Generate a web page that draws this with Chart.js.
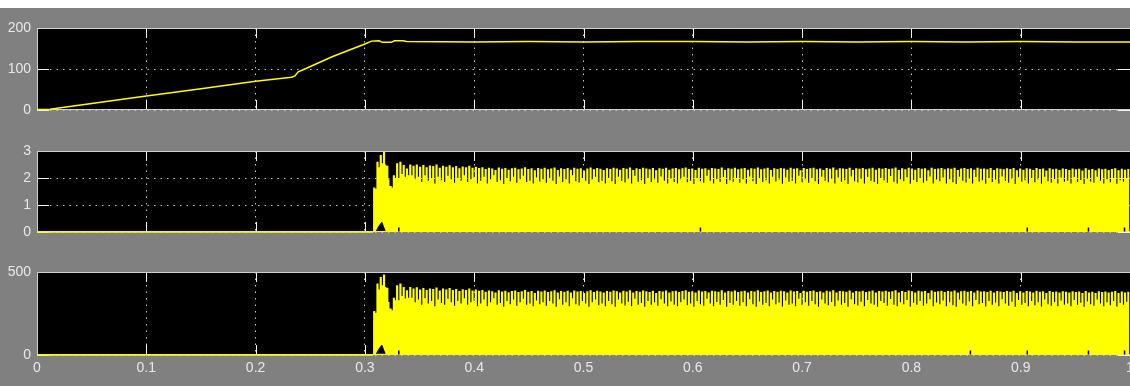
<!DOCTYPE html>
<html>
<head>
<meta charset="utf-8">
<script src="https://cdn.jsdelivr.net/npm/chart.js@4"></script>
<style>
  html, body { margin: 0; padding: 0; background: #fff; width: 1130px; height: 386px; overflow: hidden; }
  #scope { position: absolute; left: 0; top: 8px; width: 1130px; height: 378px; background: #808080; }
  canvas { position: absolute; left: 0; }
</style>
</head>
<body>
<div id="scope"></div>
<canvas id="speedChart" width="1160" height="122" style="top:8px"></canvas>
<canvas id="currentChart" width="1160" height="121" style="top:131px"></canvas>
<canvas id="powerChart" width="1160" height="134" style="top:252px"></canvas>
<script>
const YELLOW = '#ffff00';
const GRID = '#c4c4c4';
const LABEL = '#e8e8e8';

// time axis (s)
const xTickLabels = ['0', '0.1', '0.2', '0.3', '0.4', '0.5', '0.6', '0.7', '0.8', '0.9', '1'];

// panel 1 - speed
const speedTimes = [0, 0.012, 0.02, 0.05, 0.1, 0.15, 0.2, 0.233, 0.236, 0.239, 0.245, 0.27, 0.3, 0.306, 0.313,
    0.316, 0.324, 0.327, 0.335, 0.338, 0.4, 0.45, 0.5, 0.55, 0.6, 0.65, 0.7, 0.75, 0.8, 0.85, 0.9, 0.95, 1.0];
const speedValues = [1, 2, 5, 16, 34, 52, 70, 80, 83, 93, 100, 130, 161, 168, 169,
    165, 165, 169, 169, 167, 166, 167, 166, 167, 167, 166, 167, 166, 167, 166, 167, 166, 166];

// panels 2 and 3 - one switching period every PERIOD s from RIPPLE_START:
// the peak is held for PEAK_WIDTH, then the dip for the rest of the period
const SWITCH_ON = 0.3065;
const RIPPLE_START = 0.3075;
const PERIOD = 0.003;
const PEAK_WIDTH = 0.002;

const currentPeaks = [
    1.65, 2.6, 2.85, 2.97, 2.45, 1.7, 2.1, 2.55, 2.6, 2.48, 2.35, 2.5,
    2.45, 2.5, 2.42, 2.48, 2.4, 2.46, 2.44, 2.5, 2.38, 2.45, 2.42, 2.47, 2.4, 2.44, 2.36, 2.43, 2.4, 2.45, 2.38, 2.42,
    2.37, 2.4, 2.33, 2.38, 2.35, 2.3, 2.39, 2.34, 2.37, 2.31, 2.36, 2.38, 2.32, 2.35, 2.4, 2.33, 2.36, 2.29, 2.37, 2.34,
    2.38, 2.32, 2.35, 2.39, 2.3, 2.36, 2.33, 2.37, 2.31, 2.38, 2.34, 2.36, 2.28, 2.35, 2.39, 2.32, 2.37, 2.34, 2.3, 2.36,
    2.33, 2.38, 2.35, 2.31, 2.37, 2.34, 2.39, 2.3, 2.36, 2.33, 2.38, 2.35, 2.32, 2.37, 2.29, 2.36, 2.34, 2.38, 2.31, 2.35,
    2.37, 2.32, 2.36, 2.39, 2.33, 2.35, 2.3, 2.38, 2.34, 2.36, 2.31, 2.37, 2.35, 2.33, 2.39, 2.3, 2.36, 2.34, 2.38, 2.32,
    2.35, 2.37, 2.31, 2.36, 2.34, 2.39, 2.32, 2.35, 2.38, 2.3, 2.36, 2.33, 2.37, 2.35, 2.31, 2.38, 2.34, 2.36, 2.29, 2.37,
    2.33, 2.36, 2.38, 2.32, 2.35, 2.3, 2.37, 2.34, 2.39, 2.31, 2.36, 2.35, 2.33, 2.38, 2.3, 2.36, 2.34, 2.37, 2.32, 2.35,
    2.38, 2.31, 2.36, 2.34, 2.37, 2.33, 2.35, 2.39, 2.3, 2.36, 2.32, 2.38, 2.35, 2.31, 2.37, 2.34, 2.36, 2.29, 2.38, 2.33,
    2.35, 2.37, 2.32, 2.36, 2.34, 2.38, 2.3, 2.35, 2.37, 2.33, 2.36, 2.31, 2.38, 2.34, 2.35, 2.32, 2.37, 2.3, 2.36, 2.34,
    2.32, 2.36, 2.33, 2.37, 2.29, 2.35, 2.31, 2.36, 2.34, 2.3, 2.37, 2.33, 2.35, 2.28, 2.36, 2.32, 2.34, 2.3, 2.35, 2.33,
    2.3, 2.35, 2.32, 2.34, 2.28, 2.36, 2.31, 2.33, 2.29, 2.35, 2.32, 2.34, 2.3, 2.33, 2.36, 2.29, 2.34, 2.31, 2.33
];
const currentDips = [
    1.6, 2.4, 2.55, 2.5, 1.95, 1.65, 2.0, 2.0, 2.15, 2.05, 2.1, 2.1,
    1.95, 2.05, 1.85, 2.1, 1.9, 2.0, 1.8, 2.05, 1.92, 1.85, 2.08, 1.95, 1.82, 2.0, 1.9, 2.1, 1.85, 1.95, 2.02, 1.8,
    1.9, 2.05, 1.8, 1.95, 2.1, 1.85, 1.92, 1.78, 2.0, 1.88, 2.05, 1.82, 1.95, 2.08, 1.85, 1.9, 1.8, 2.02, 1.87, 1.95,
    1.82, 2.0, 1.9, 1.78, 2.06, 1.85, 1.95, 1.8, 2.1, 1.88, 1.83, 2.0, 1.9, 1.78, 1.95, 2.05, 1.84, 1.9, 1.8, 2.0,
    1.88, 1.78, 2.05, 1.9, 1.83, 1.97, 1.8, 2.08, 1.86, 1.92, 1.78, 2.0, 1.85, 1.95, 1.82, 2.06, 1.9, 1.8, 1.98, 1.85,
    1.8, 1.95, 2.05, 1.84, 1.9, 1.78, 2.0, 1.88, 1.82, 2.08, 1.9, 1.8, 1.96, 1.85, 2.04, 1.78, 1.92, 1.86, 2.0, 1.82,
    1.95, 1.8, 2.06, 1.88, 1.78, 1.98, 1.85, 1.92, 1.8, 2.05, 1.87, 1.94, 1.79, 2.02, 1.86, 1.9, 1.8, 2.08, 1.84, 1.95,
    1.82, 2.0, 1.88, 1.78, 2.05, 1.9, 1.84, 1.96, 1.8, 2.02, 1.86, 1.92, 1.78, 2.06, 1.88, 1.83, 1.97, 1.8, 2.04, 1.9,
    1.85, 1.78, 2.0, 1.92, 1.82, 2.07, 1.86, 1.8, 1.95, 1.88, 2.03, 1.79, 1.93, 1.85, 2.0, 1.82, 1.9, 2.06, 1.8, 1.94,
    1.88, 2.02, 1.8, 1.95, 1.84, 1.78, 2.05, 1.9, 1.83, 1.98, 1.8, 2.04, 1.87, 1.92, 1.79, 2.0, 1.85, 1.94, 1.8, 2.06,
    1.9, 1.82, 1.97, 1.78, 2.03, 1.86, 1.92, 1.8, 2.0, 1.84, 1.95, 1.79, 2.05, 1.88, 1.82, 1.96, 1.8, 2.02, 1.86, 1.9,
    1.8, 2.04, 1.85, 1.93, 1.78, 1.98, 1.87, 1.82, 2.05, 1.9, 1.8, 1.95, 1.84, 2.0, 1.79, 1.92, 1.86, 1.97, 1.82
];

const powerPeaks = [
    265, 430, 470, 485, 405, 280, 345, 420, 430, 410, 390, 410,
    400, 408, 395, 404, 392, 401, 398, 407, 389, 400, 395, 403, 392, 398, 386, 396, 392, 400, 388, 395,
    387, 392, 381, 388, 384, 376, 390, 382, 387, 378, 385, 388, 379, 384, 391, 381, 385, 374, 387, 382,
    388, 379, 384, 390, 376, 385, 381, 387, 377, 388, 382, 385, 373, 384, 390, 379, 387, 382, 376, 385,
    381, 388, 384, 377, 387, 382, 390, 376, 385, 381, 388, 384, 379, 387, 374, 385, 382, 388, 377, 384,
    387, 379, 385, 390, 381, 384, 376, 388, 382, 385, 377, 387, 384, 381, 390, 376, 385, 382, 388, 379,
    384, 387, 377, 385, 382, 390, 379, 384, 388, 376, 385, 381, 387, 384, 377, 388, 382, 385, 374, 387,
    381, 385, 388, 379, 384, 376, 387, 382, 390, 377, 385, 384, 381, 388, 376, 385, 382, 387, 379, 384,
    388, 377, 385, 382, 387, 381, 384, 390, 376, 385, 379, 388, 384, 377, 387, 382, 385, 374, 388, 381,
    384, 387, 379, 385, 382, 388, 376, 384, 387, 381, 385, 377, 388, 382, 384, 379, 387, 376, 385, 382,
    379, 385, 381, 387, 374, 384, 377, 385, 382, 376, 387, 381, 384, 373, 385, 379, 382, 376, 384, 381,
    376, 384, 379, 382, 373, 385, 377, 381, 374, 384, 379, 382, 376, 381, 385, 374, 382, 377, 381
];
const powerDips = [
    255, 395, 420, 410, 320, 270, 330, 330, 355, 340, 345, 345,
    318, 334, 302, 342, 310, 326, 293, 334, 313, 302, 339, 318, 297, 326, 310, 342, 302, 318, 329, 293,
    310, 334, 293, 318, 342, 302, 313, 290, 326, 306, 334, 297, 318, 339, 302, 310, 293, 329, 305, 318,
    297, 326, 310, 290, 336, 302, 318, 293, 342, 306, 298, 326, 310, 290, 318, 334, 300, 310, 293, 326,
    306, 290, 334, 310, 298, 321, 293, 339, 303, 313, 290, 326, 302, 318, 297, 336, 310, 293, 323, 302,
    293, 318, 334, 300, 310, 290, 326, 306, 297, 339, 310, 293, 320, 302, 332, 290, 313, 303, 326, 297,
    318, 293, 336, 306, 290, 323, 302, 313, 293, 334, 305, 316, 292, 329, 303, 310, 293, 339, 300, 318,
    297, 326, 306, 290, 334, 310, 300, 320, 293, 329, 303, 313, 290, 336, 306, 298, 321, 293, 332, 310,
    302, 290, 326, 313, 297, 337, 303, 293, 318, 306, 331, 292, 315, 302, 326, 297, 310, 336, 293, 316,
    306, 329, 293, 318, 300, 290, 334, 310, 298, 323, 293, 332, 305, 313, 292, 326, 302, 316, 293, 336,
    310, 297, 321, 290, 331, 303, 313, 293, 326, 300, 318, 292, 334, 306, 297, 320, 293, 329, 303, 310,
    293, 332, 302, 315, 290, 323, 305, 297, 334, 310, 293, 318, 300, 326, 292, 313, 303, 321, 297
];

// black gap just after switch-on (signal not reaching zero)
const gapTimes = [0.3105, 0.3125, 0.3155, 0.317, 0.3185];
const currentGap = [0.04, 0.2, 0.36, 0.2, 0.04];
const powerGap = [7, 33, 60, 33, 7];

// small dropouts at the bottom
const currentDropTimes = [0.331, 0.607, 0.906, 0.962, 0.995];
const powerDropTimes = [0.331, 0.854, 0.906, 0.962, 0.995];

function toPoints(xs, ys) {
    return xs.map((x, i) => ({ x, y: ys[i] }));
}

function rippleSeries(peaks, dips) {
    const pts = [{ x: 0, y: 0 }, { x: SWITCH_ON, y: 0 }];
    peaks.forEach((p, i) => {
        const t = RIPPLE_START + i * PERIOD;
        pts.push({ x: t, y: p });
        pts.push({ x: t + PEAK_WIDTH, y: dips[i] });
    });
    return pts;
}

const scopeFrame = {
    id: 'scopeFrame',
    beforeDraw(chart) {
        const { ctx, chartArea: a } = chart;
        ctx.save();
        ctx.fillStyle = '#000';
        ctx.fillRect(a.left, a.top, a.width, a.height);
        ctx.restore();
    },
    beforeDatasetsDraw(chart) {
        const { ctx, chartArea: a, scales } = chart;
        ctx.save();
        ctx.strokeStyle = '#f2f2f2';
        ctx.lineWidth = 1;
        ctx.beginPath();
        scales.x.ticks.forEach(t => {
            const x = Math.round(scales.x.getPixelForValue(t.value)) + 0.5;
            ctx.moveTo(x, a.top); ctx.lineTo(x, a.top + 10);
            ctx.moveTo(x, a.bottom); ctx.lineTo(x, a.bottom - 10);
        });
        scales.y.ticks.forEach(t => {
            const y = Math.round(scales.y.getPixelForValue(t.value)) + 0.5;
            ctx.moveTo(a.left, y); ctx.lineTo(a.left + 12, y);
            ctx.moveTo(a.right, y); ctx.lineTo(a.right - 12, y);
        });
        ctx.stroke();
        ctx.strokeStyle = '#cfcfcf';
        ctx.strokeRect(a.left + 0.5, a.top + 0.5, a.width, a.height - 1);
        ctx.restore();
    }
};

function panelOptions(yMax, yStep, showX) {
    return {
        animation: false,
        responsive: false,
        layout: { padding: { top: 20, right: 30, left: 0, bottom: 0 } },
        plugins: { legend: { display: false }, tooltip: { enabled: false } },
        scales: {
            x: {
                type: 'linear',
                min: 0,
                max: 1,
                afterFit: s => { s.height = showX ? 31 : 20; },
                ticks: {
                    display: showX,
                    stepSize: 0.1,
                    padding: 5,
                    color: LABEL,
                    font: { family: 'Liberation Sans', size: 14 },
                    callback: (v, i) => xTickLabels[i]
                },
                grid: { color: GRID, lineWidth: 1, drawTicks: false },
                border: { display: false, dash: [1.5, 5] }
            },
            y: {
                min: 0,
                max: yMax,
                afterFit: s => { s.width = 37; },
                ticks: {
                    stepSize: yStep,
                    padding: 6,
                    color: LABEL,
                    font: { family: 'Liberation Sans', size: 14 }
                },
                grid: { color: GRID, lineWidth: 1, drawTicks: false },
                border: { display: false, dash: [1.5, 5] }
            }
        }
    };
}

function ripplePanel(id, peaks, dips, gap, dropTimes, dropLevel, yMax, yStep, showX) {
    new Chart(document.getElementById(id), {
        type: 'line',
        data: {
            datasets: [
                {
                    data: rippleSeries(peaks, dips),
                    stepped: true,
                    borderColor: YELLOW,
                    borderWidth: 0,
                    backgroundColor: YELLOW,
                    fill: 'origin',
                    pointRadius: 0,
                    clip: 2,
                    order: 4
                },
                {
                    data: [{ x: 0, y: 0 }, { x: RIPPLE_START, y: 0 }],
                    borderColor: YELLOW,
                    borderWidth: 1.5,
                    pointRadius: 0,
                    clip: 2,
                    order: 3
                },
                {
                    data: toPoints(gapTimes, gap),
                    borderColor: '#000',
                    borderWidth: 1,
                    backgroundColor: '#000',
                    fill: { value: gap[0] },
                    pointRadius: 0,
                    order: 2
                },
                {
                    data: dropTimes.map(t => ({ x: t, y: dropLevel })),
                    showLine: false,
                    pointStyle: 'line',
                    rotation: 90,
                    pointRadius: 2,
                    borderColor: '#000',
                    borderWidth: 1.5,
                    order: 1
                }
            ]
        },
        options: panelOptions(yMax, yStep, showX),
        plugins: [scopeFrame]
    });
}

new Chart(document.getElementById('speedChart'), {
    type: 'line',
    data: {
        datasets: [{
            data: toPoints(speedTimes, speedValues),
            borderColor: YELLOW,
            borderWidth: 1.5,
            pointRadius: 0,
            tension: 0,
            fill: false,
            clip: 3
        }]
    },
    options: panelOptions(200, 100, false),
    plugins: [scopeFrame]
});

ripplePanel('currentChart', currentPeaks, currentDips, currentGap, currentDropTimes, 0.09, 3, 1, false);
ripplePanel('powerChart', powerPeaks, powerDips, powerGap, powerDropTimes, 15, 500, 500, true);
</script>
</body>
</html>
